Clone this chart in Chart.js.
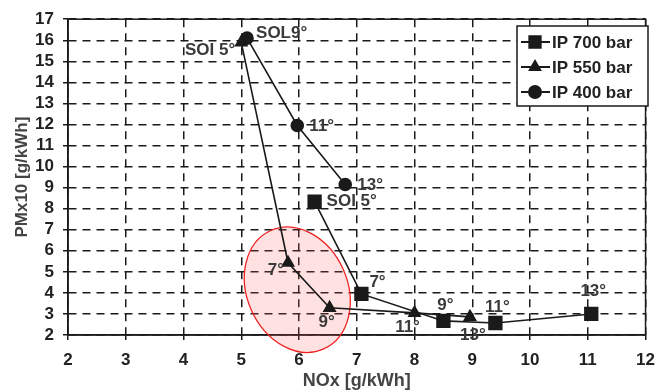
<!DOCTYPE html>
<html>
<head>
<meta charset="utf-8">
<script src="https://cdn.jsdelivr.net/npm/chart.js@4/dist/chart.umd.min.js"></script>
<style>
  html, body { margin: 0; padding: 0; background: #fff; }
  #wrap { width: 665px; height: 392px; }
</style>
</head>
<body>
<div id="wrap"><canvas id="chart" width="665" height="392"></canvas></div>
<script>
// --- data ---
const seriesNames = ['IP 700 bar', 'IP 550 bar', 'IP 400 bar'];

const ip700_nox = [6.27, 7.08, 8.5, 9.4, 11.06];
const ip700_pm  = [8.33, 3.95, 2.67, 2.57, 3.0];
const ip700_lbl = ['SOI 5°', '7°', '9°', '11°', '13°'];

const ip550_nox = [5.0, 5.81, 6.53, 8.0, 8.96];
const ip550_pm  = [15.9, 5.43, 3.29, 3.05, 2.86];
const ip550_lbl = ['SOI 5°', '7°', '9°', '11°', '13°'];

const ip400_nox = [5.1, 5.97, 6.8];
const ip400_pm  = [16.1, 11.95, 9.15];
const ip400_lbl = ['SOL9°', '11°', '13°'];

const xTicks = [2, 3, 4, 5, 6, 7, 8, 9, 10, 11, 12];
const yTicks = [2, 3, 4, 5, 6, 7, 8, 9, 10, 11, 12, 13, 14, 15, 16, 17];

// highlighted region (data units)
const ellipseCenter = [5.97, 4.15];
const ellipseRadii = [0.87, 3.08];

function pts(xs, ys) { return xs.map((x, i) => ({ x: x, y: ys[i] })); }

// label placement: [dx, dy, align] per point, in pixels from the marker
const labelPlace = [
  [[12, 0, 'left'], [8, -12, 'left'], [2, -16, 'center'], [2, -16, 'center'], [2, -23, 'center']],
  [[-6, 8, 'right'], [-4, 8, 'right'], [-3, 14, 'center'], [-7, 14, 'center'], [3, 18, 'center']],
  [[9, -5, 'left'], [12, 1, 'left'], [12, 1, 'left']]
];
const labelSets = [ip700_lbl, ip550_lbl, ip400_lbl];

const ink = '#1a1a1a';
const FONT = '"Liberation Sans", Arial, sans-serif';

const decorPlugin = {
  id: 'decor',
  beforeDatasetsDraw(chart) {
    const ctx = chart.ctx, a = chart.chartArea;
    const xs = chart.scales.x, ys = chart.scales.y;
    // frame
    ctx.save();
    ctx.strokeStyle = ink;
    ctx.lineWidth = 1.5;
    ctx.strokeRect(a.left, a.top, a.right - a.left, a.bottom - a.top);
    // red ellipse
    const cx = xs.getPixelForValue(ellipseCenter[0]);
    const cy = ys.getPixelForValue(ellipseCenter[1]);
    const rx = xs.getPixelForValue(ellipseCenter[0] + ellipseRadii[0]) - cx;
    const ry = cy - ys.getPixelForValue(ellipseCenter[1] + ellipseRadii[1]);
    ctx.beginPath();
    ctx.ellipse(cx, cy, rx, ry, -0.42, 0, Math.PI * 2);
    ctx.fillStyle = 'rgba(255, 90, 90, 0.18)';
    ctx.fill();
    ctx.strokeStyle = '#ee2222';
    ctx.lineWidth = 1.3;
    ctx.stroke();
    ctx.restore();
  },
  afterDatasetsDraw(chart) {
    const ctx = chart.ctx;
    ctx.save();
    ctx.font = 'bold 17px ' + FONT;
    ctx.fillStyle = '#3a3a3a';
    ctx.textBaseline = 'middle';
    chart.data.datasets.forEach((ds, di) => {
      const meta = chart.getDatasetMeta(di);
      meta.data.forEach((el, i) => {
        const p = labelPlace[di][i];
        ctx.textAlign = p[2];
        ctx.fillText(labelSets[di][i], el.x + p[0], el.y + p[1]);
      });
    });
    // legend box
    const bx = 517, by = 26, bw = 131, bh = 80;
    ctx.fillStyle = '#fff';
    ctx.fillRect(bx, by, bw, bh);
    ctx.strokeStyle = ink;
    ctx.lineWidth = 1.5;
    ctx.strokeRect(bx, by, bw, bh);
    const styles = ['rect', 'triangle', 'circle'];
    ctx.font = 'bold 17px ' + FONT;
    seriesNames.forEach((name, i) => {
      const yy = by + 16 + i * 25;
      ctx.strokeStyle = ink;
      ctx.lineWidth = 2;
      ctx.beginPath();
      ctx.moveTo(bx + 4, yy);
      ctx.lineTo(bx + 33, yy);
      ctx.stroke();
      ctx.fillStyle = ink;
      Chart.helpers.drawPoint(ctx, { pointStyle: styles[i], radius: styles[i] === 'rect' ? 8 : 6, borderWidth: 1 }, bx + 18, yy);
      ctx.fillStyle = '#222';
      ctx.textAlign = 'left';
      ctx.fillText(name, bx + 35, yy + 1);
    });
    ctx.restore();
  }
};

const lineDs = (label, data, style, r) => ({
  label: label,
  data: data,
  showLine: true,
  borderColor: ink,
  borderWidth: 1.6,
  backgroundColor: ink,
  pointStyle: style,
  pointRadius: r,
  pointBorderColor: ink,
  pointBackgroundColor: ink,
  tension: 0
});

new Chart(document.getElementById('chart').getContext('2d'), {
  type: 'scatter',
  data: {
    datasets: [
      lineDs(seriesNames[0], pts(ip700_nox, ip700_pm), 'rect', 9),
      lineDs(seriesNames[1], pts(ip550_nox, ip550_pm), 'triangle', 6.5),
      lineDs(seriesNames[2], pts(ip400_nox, ip400_pm), 'circle', 6)
    ]
  },
  options: {
    responsive: false,
    animation: false,
    layout: { padding: { top: 19, right: 12, left: 0, bottom: 0 } },
    plugins: { legend: { display: false }, tooltip: { enabled: false } },
    scales: {
      x: {
        type: 'linear', min: 2, max: 12,
        afterBuildTicks: s => { s.ticks = xTicks.map(v => ({ value: v })); },
        afterFit: s => { s.height = 57; },
        grid: { color: ink, lineWidth: 1.5, tickLength: 5, drawTicks: true },
        border: { color: ink, width: 1.5, dash: [8, 6] },
        ticks: { color: '#222', autoSkip: false, maxRotation: 0, font: { family: FONT, size: 17, weight: 'bold' }, padding: 10 },
        title: { display: true, text: 'NOx [g/kWh]', color: '#444', font: { family: FONT, size: 18, weight: 'bold' }, padding: { top: 0, bottom: 0 } }
      },
      y: {
        type: 'linear', min: 2, max: 17,
        afterBuildTicks: s => { s.ticks = yTicks.map(v => ({ value: v })); },
        afterFit: s => { s.width = 68; },
        grid: { color: ink, lineWidth: 1.5, tickLength: 5 },
        border: { color: ink, width: 1.5, dash: [8, 6] },
        ticks: { color: '#222', autoSkip: false, font: { family: FONT, size: 17, weight: 'bold' }, padding: 9 },
        title: { display: true, text: 'PMx10 [g/kWh]', color: '#444', font: { family: FONT, size: 17, weight: 'bold' }, padding: { top: 12, bottom: 4 } }
      }
    }
  },
  plugins: [decorPlugin]
});
</script>
</body>
</html>
